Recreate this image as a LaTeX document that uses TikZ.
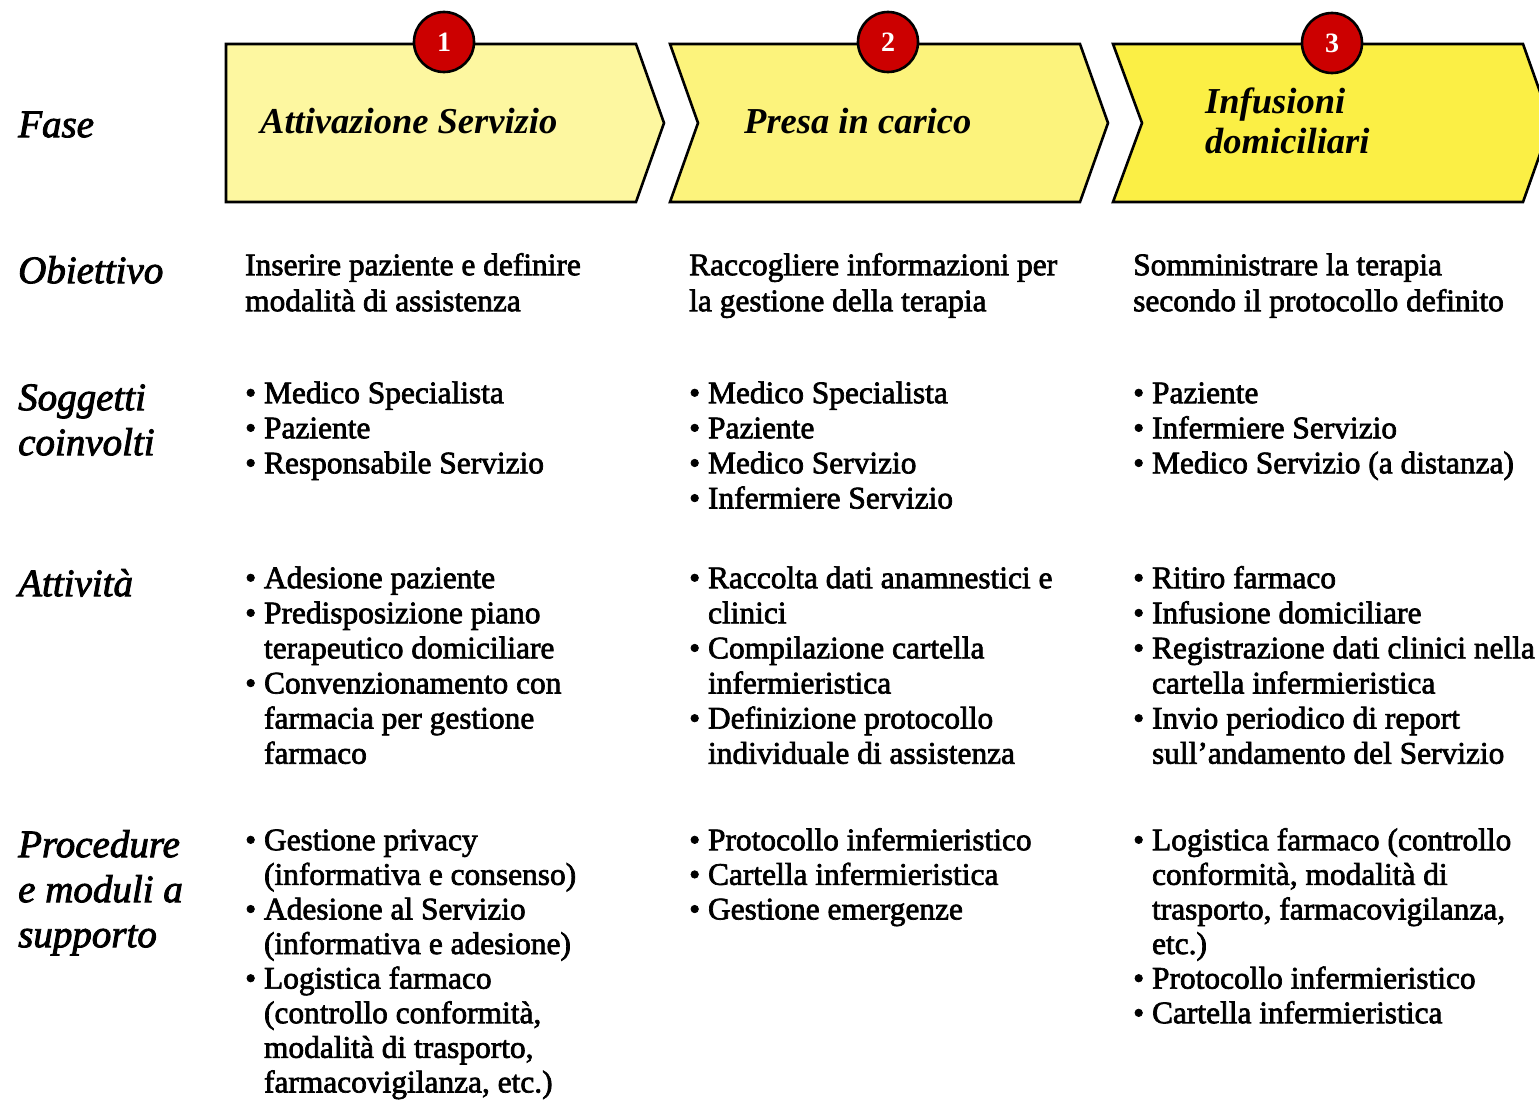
\documentclass[tikz,border=0pt]{standalone}
\usepackage{fontspec}
\setmainfont{Liberation Serif}[UprightFeatures={FakeBold=2.2}, ItalicFeatures={FakeBold=2.2}]
\newcommand{\bitem}{\textbullet\ }
\newcommand{\hind}{\phantom{\textbullet\ }}
\definecolor{yelA}{RGB}{253,247,160}
\definecolor{yelB}{RGB}{252,243,124}
\definecolor{yelC}{RGB}{251,239,69}
\definecolor{badgered}{RGB}{204,0,0}
\tikzset{
  chevron/.style={draw=black, line width=2.6pt, line join=miter},
  headtxt/.style={anchor=base west, inner sep=0pt, align=left, font=\fontsize{36.5}{40}\selectfont\bfseries\itshape},
  badge/.style={circle, draw=black, line width=2.6pt, fill=badgered, minimum size=60pt, inner sep=0pt, text=white, font=\fontsize{28}{28}\selectfont\bfseries},
  rowlabel/.style={anchor=north west, inner sep=0pt, align=left, font=\fontsize{39}{45}\selectfont\itshape},
  bodytxt/.style={anchor=north west, inner sep=0pt, align=left, font=\fontsize{31.4}{35.1}\selectfont},
  proctxt/.style={anchor=north west, inner sep=0pt, align=left, font=\fontsize{31.4}{34.6}\selectfont},
  objtxt/.style={anchor=north west, inner sep=0pt, align=left, font=\fontsize{31.4}{36}\selectfont}
}
\begin{document}
\begin{tikzpicture}[x=1pt,y=-1pt]
\useasboundingbox (0,0) rectangle (1539,1100);
\begin{scope}
\clip (0,0) rectangle (1539,1100);
\draw[chevron, fill=yelA] (226,44) -- (636,44) -- (664,123) -- (636,202) -- (226,202) -- cycle;
\draw[chevron, fill=yelB] (670,44) -- (1080,44) -- (1108,123) -- (1080,202) -- (670,202) -- (698,123) -- cycle;
\draw[chevron, fill=yelC] (1113,44) -- (1523,44) -- (1551,123) -- (1523,202) -- (1113,202) -- (1142,123) -- cycle;
\end{scope}

\node[headtxt] (h1) at (260,133) {Attivazione Servizio};
\node[headtxt] (h2) at (744,133) {Presa in carico};
\node[headtxt, anchor=north west] (h3) at (1205,85) {\strut Infusioni\\domiciliari};

\node[badge] (b1) at (444,42) {1};
\node[badge] (b2) at (888,42) {2};
\node[badge] (b3) at (1332,43) {3};

% row labels
\node[rowlabel] (lfase) at (18,105.5) {\strut Fase};
\node[rowlabel] (lobi) at (18,251.5) {\strut Obiettivo};
\node[rowlabel] (lsog) at (18,378.5) {\strut Soggetti\\coinvolti};
\node[rowlabel] (latt) at (18,564.5) {\strut Attività};
\node[rowlabel] (lpro) at (18,825.5) {\strut Procedure\\e moduli a\\supporto};

% Obiettivo
\node[objtxt] (o1) at (245,249.8) {\strut Inserire paziente e definire\\modalità di assistenza};
\node[objtxt] (o2) at (689,249.8) {\strut Raccogliere informazioni per\\la gestione della terapia};
\node[objtxt] (o3) at (1133,249.8) {\strut Somministrare la terapia\\secondo il protocollo definito};

% Soggetti coinvolti
\node[bodytxt] (s1) at (245,378.4) {\strut\bitem Medico Specialista\\\bitem Paziente\\\bitem Responsabile Servizio};
\node[bodytxt] (s2) at (689,378.4) {\strut\bitem Medico Specialista\\\bitem Paziente\\\bitem Medico Servizio\\\bitem Infermiere Servizio};
\node[bodytxt] (s3) at (1133,378.4) {\strut\bitem Paziente\\\bitem Infermiere Servizio\\\bitem Medico Servizio (a distanza)};

% Attivita
\node[bodytxt] (a1) at (245,563.4) {\strut\bitem Adesione paziente\\\bitem Predisposizione piano\\\hind terapeutico domiciliare\\\bitem Convenzionamento con\\\hind farmacia per gestione\\\hind farmaco};
\node[bodytxt] (a2) at (689,563.4) {\strut\bitem Raccolta dati anamnestici e\\\hind clinici\\\bitem Compilazione cartella\\\hind infermieristica\\\bitem Definizione protocollo\\\hind individuale di assistenza};
\node[bodytxt] (a3) at (1133,563.4) {\strut\bitem Ritiro farmaco\\\bitem Infusione domiciliare\\\bitem Registrazione dati clinici nella\\\hind cartella infermieristica\\\bitem Invio periodico di report\\\hind sull’andamento del Servizio};

% Procedure
\node[proctxt] (p1) at (245,825.8) {\strut\bitem Gestione privacy\\\hind (informativa e consenso)\\\bitem Adesione al Servizio\\\hind (informativa e adesione)\\\bitem Logistica farmaco\\\hind (controllo conformità,\\\hind modalità di trasporto,\\\hind farmacovigilanza, etc.)};
\node[proctxt] (p2) at (689,825.8) {\strut\bitem Protocollo infermieristico\\\bitem Cartella infermieristica\\\bitem Gestione emergenze};
\node[proctxt] (p3) at (1133,825.8) {\strut\bitem Logistica farmaco (controllo\\\hind conformità, modalità di\\\hind trasporto, farmacovigilanza,\\\hind etc.)\\\bitem Protocollo infermieristico\\\bitem Cartella infermieristica};
\end{tikzpicture}
\end{document}
